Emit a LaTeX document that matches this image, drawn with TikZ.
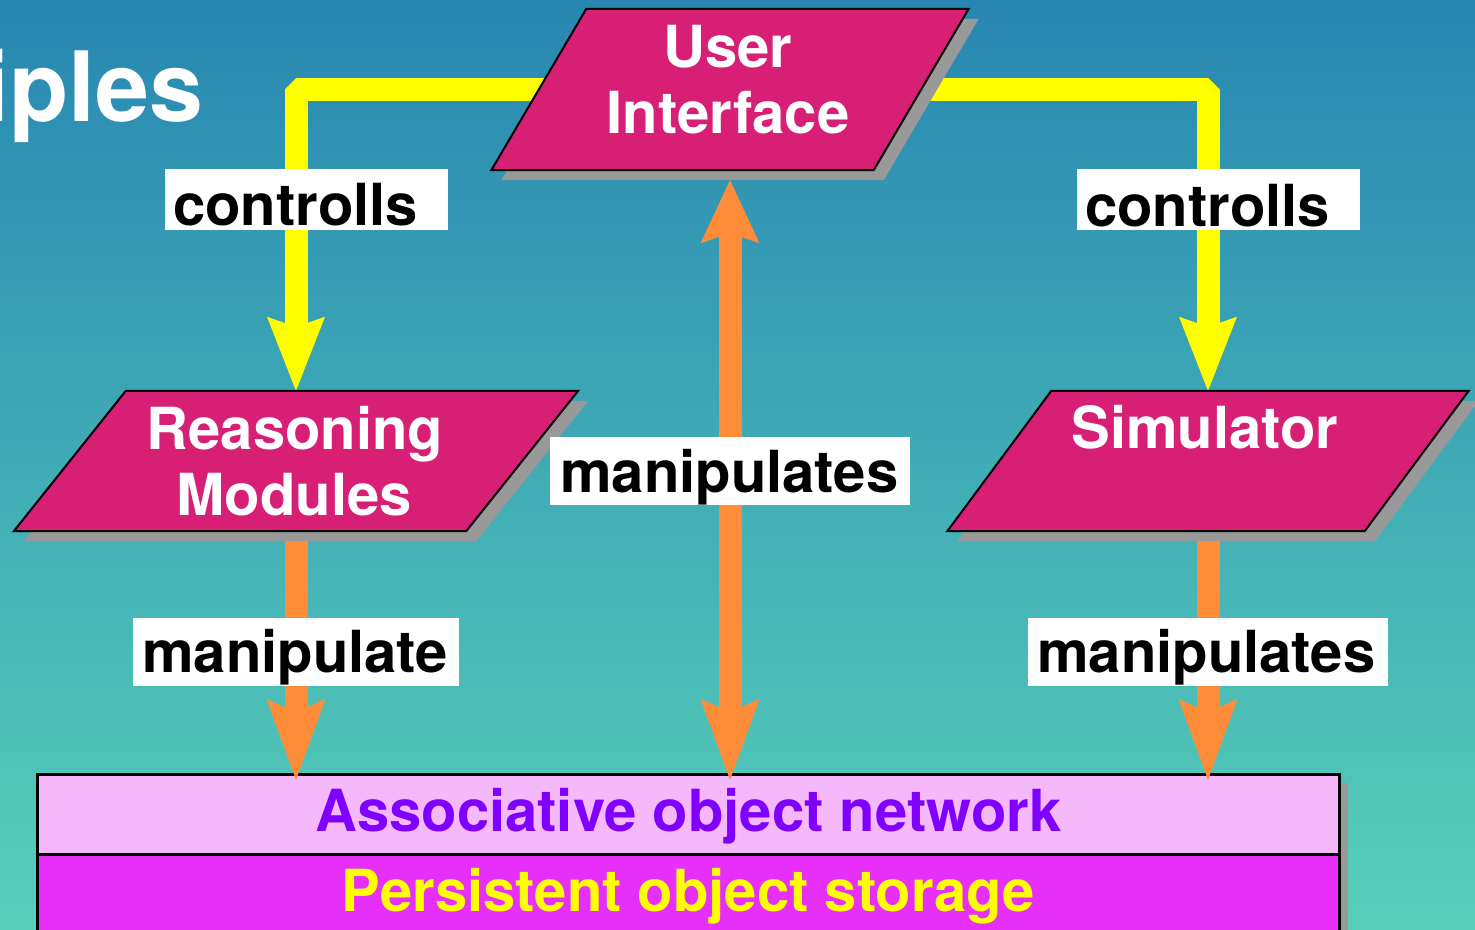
\documentclass[tikz,border=0pt]{standalone}
\usepackage{fontspec}
\setmainfont{TeX Gyre Heros}
\usetikzlibrary{arrows.meta,calc}

\definecolor{skytop}{RGB}{40,135,178}
\definecolor{skybot}{RGB}{88,208,185}
\definecolor{plum}{RGB}{216,31,118}
\definecolor{dropgray}{RGB}{153,153,153}
\definecolor{ctrlyellow}{RGB}{255,255,0}
\definecolor{manorange}{RGB}{255,140,56}
\definecolor{netpink}{RGB}{245,185,251}
\definecolor{netpurple}{RGB}{128,0,255}
\definecolor{storemagenta}{RGB}{230,48,250}

\pgfdeclarelayer{backdrop}
\pgfdeclarelayer{boxes}
\pgfdeclarelayer{wires}
\pgfdeclarelayer{shapes}
\pgfsetlayers{backdrop,boxes,wires,shapes,main}

% slanted module outline with drop shadow, built on an invisible node
% #1 node name, #2 half of the horizontal slant
\newcommand\slantbox[2]{%
  \fill[dropgray]
    ([xshift=#2+10pt,yshift=-10pt]#1.north west) --
    ([xshift=#2+10pt,yshift=-10pt]#1.north east) --
    ([xshift=-#2+10pt,yshift=-10pt]#1.south east) --
    ([xshift=-#2+10pt,yshift=-10pt]#1.south west) -- cycle;
  \filldraw[fill=plum, draw=black, line width=2pt]
    ([xshift=#2]#1.north west) --
    ([xshift=#2]#1.north east) --
    ([xshift=-#2]#1.south east) --
    ([xshift=-#2]#1.south west) -- cycle;}

\tikzset{
  bigfont/.style={font=\fontsize{58}{67}\selectfont\bfseries},
  module/.style={minimum height=140pt, inner sep=0pt},
  modtext/.style={bigfont, anchor=base, text=white},
  tagbox/.style={fill=white, anchor=north west, inner sep=0pt},
  tagtext/.style={bigfont, anchor=base west, inner sep=0pt, text=black},
  ctrlwire/.style={draw=ctrlyellow, line width=23pt, line join=bevel,
    -{Stealth[length=74pt,width=58pt,inset=10pt,line width=0pt]}},
  manipwire/.style={draw=manorange, line width=23pt,
    -{Stealth[length=81pt,width=59pt,inset=13pt,line width=0pt]}},
  layerbox/.style={bigfont, draw=black, line width=2.5pt, minimum width=1302pt,
    anchor=north west, inner sep=0pt},
}

\begin{document}
\begin{tikzpicture}[x=1pt,y=-1pt]
\useasboundingbox (0,0) rectangle (1475,929);

\begin{pgfonlayer}{backdrop}
  \shade[top color=skytop, bottom color=skybot] (0,0) rectangle (1475,929);
\end{pgfonlayer}

% heading fragment
\node[anchor=base east, text=white, inner sep=0pt,
      font=\fontsize{97}{110}\selectfont\bfseries] (title) at (204,121) {iples};

% modules
\node[module, minimum width=382pt, minimum height=161pt] (ui) at (730,89.5) {};
\node[module, minimum width=452pt] (rm) at (296,461) {};
\node[module, minimum width=417pt] (sim) at (1208,461) {};

\node[modtext] (uiA) at (728,67) {User};
\node[modtext] (uiB) at (728,133) {Interface};
\node[modtext] (rmA) at (295,449) {Reasoning};
\node[modtext] (rmB) at (294,515) {Modules};
\node[modtext] (simA) at (1205,448) {Simulator};

\begin{pgfonlayer}{shapes}
  \slantbox{ui}{47.5pt}
  \slantbox{rm}{56pt}
  \slantbox{sim}{52pt}
\end{pgfonlayer}

% storage layers
\begin{pgfonlayer}{boxes}
  \fill[dropgray] (46,783) rectangle (1348,950);
  \node[layerbox, fill=netpink, text=netpurple, minimum height=80pt,
        text height=45pt, text depth=11pt] (net) at (36,773) {Associative object network};
  \node[layerbox, fill=storemagenta, text=ctrlyellow, minimum height=90pt,
        text height=42pt, text depth=18pt] (store) at (36,853) {Persistent object storage};
\end{pgfonlayer}

% connectors
\begin{pgfonlayer}{wires}
  \draw[ctrlwire] (ui.center) -| (rm.north);
  \draw[ctrlwire] (ui.center) -| (sim.north);
  \draw[manipwire] (rm.south) -- ($(rm.south |- net.north)+(0,7)$);
  \draw[manipwire] (sim.south) -- ($(sim.south |- net.north)+(0,7)$);
  \draw[manipwire, {Stealth[length=63pt,width=59pt,inset=10pt,line width=0pt]}-{Stealth[length=81pt,width=59pt,inset=13pt,line width=0pt]}]
    ($(ui.south)+(0,10)$) -- ($(ui.south |- net.north)+(0,7)$);
\end{pgfonlayer}

% connector labels
\node[tagbox, minimum width=283pt, minimum height=61pt] (tagL) at (165,169) {};
\node[tagtext] (tagLtext) at (173,225) {controlls};
\node[tagbox, minimum width=283pt, minimum height=61pt] (tagR) at (1077,169) {};
\node[tagtext] (tagRtext) at (1085,226) {controlls};
\node[tagbox, minimum width=360pt, minimum height=68pt] (tagC) at (550,437) {};
\node[tagtext] (tagCtext) at (560,492) {manipulates};
\node[tagbox, minimum width=326pt, minimum height=68pt] (tagRM) at (133,618) {};
\node[tagtext] (tagRMtext) at (142,672) {manipulate};
\node[tagbox, minimum width=360pt, minimum height=68pt] (tagS) at (1028,618) {};
\node[tagtext] (tagStext) at (1037,672) {manipulates};
\end{tikzpicture}
\end{document}
